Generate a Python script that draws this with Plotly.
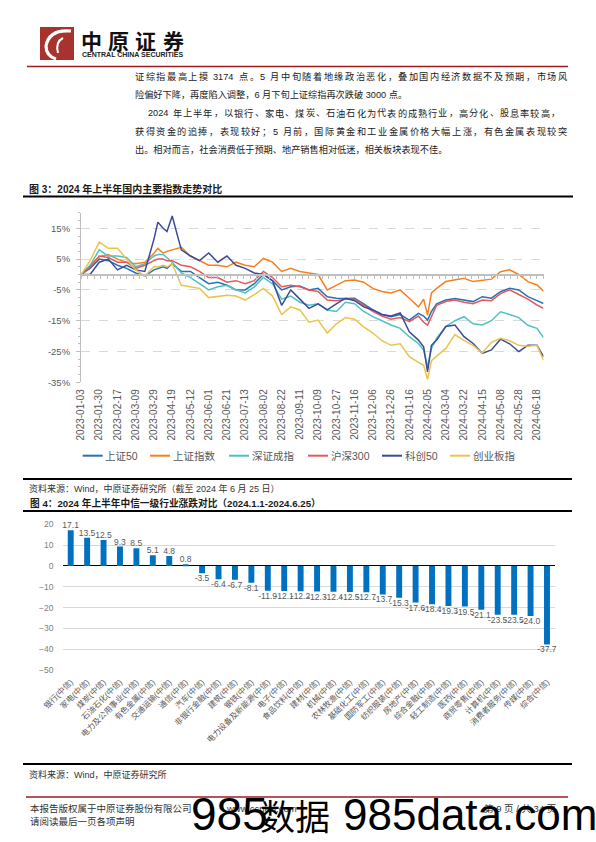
import plotly.graph_objects as go

# ---------------- data: figure 3 (cumulative % change since 2023-01-03) ----------------
index_names = ["上证50", "上证指数", "深证成指", "沪深300", "科创50", "创业板指"]

trade_day = [0, 7, 14, 21, 28, 35, 42, 49, 56, 59, 63, 66,
             70, 77, 84, 91, 98, 105, 112, 119, 126, 133, 140, 147, 154, 161, 168, 175, 182,
             189, 196, 203, 210, 217, 224, 231, 238, 245, 252, 259,
             263, 266, 269,
             273, 280, 287, 294, 301, 308, 315, 322, 329, 336, 343, 350, 355]

sz50 = [0, 2, 5, 4.5, 3, 2, 0.5, -0.5, 1.5, 2, 2.5, 2,
        3.5, 1, 1, -1, -3, -2.5, -3.5, -5, -5, -3, 0, -2, -5, -4, -3.7, -5, -4.5,
        -7.2, -7.7, -7.8, -7.7, -9.5, -11.5, -13, -13.7, -13, -14.8, -12.6,
        -13.5, -14.8, -12,
        -9.5, -8.3, -7.8, -8.3, -8.8, -7.2, -7.7, -5.6, -4.5, -5, -7.2, -8.5, -9.4]

sse = [0, 3, 5.8, 6.5, 5, 4, 3.5, 4, 6.9, 8.5, 7, 7.5,
       8, 8.8, 6, 4.5, 3, 3, 2.5, 4, 3, 2.5, 5.2, 4, 1, 2, 1, 0.5, 0,
       -5, -3.4, -2, -1.8, -2.5, -4.5, -5.5, -6, -5, -7.7, -10.5,
       -8, -13.2, -6,
       -4.5, -2.3, -1.8, -1.2, -2.3, -1.8, -1.5, 0.9, 1.5, 0, -2.3, -3.4, -5.4]

szse = [0, 3, 8, 6, 6, 5.5, 2.5, 3.5, 6, 6.5, 6.5, 5.5,
        4, 0.5, -1, -3, -5, -4, -3.5, -5, -6, -4, -1, -3, -8, -7, -9, -10, -9.5,
        -11.5, -12, -9, -9.5, -12, -13.7, -15, -16.4, -17.5, -20.2, -22.4,
        -24.5, -29.9, -24,
        -20.7, -16.9, -15, -13.7, -16, -16.4, -15, -12.1, -13, -14, -16.5, -17.5, -20.5]

hs300 = [0, 2.5, 6, 5.5, 4, 4, 2, 3, 4.5, 5, 5, 4.5,
         4.5, 3, 2.5, 1, -1, -1, -2.5, -2, -3, -2, 1, -1, -4, -3.5, -4, -5, -5.5,
         -8.3, -8.5, -8, -8, -10, -12, -13.5, -14.5, -14, -15.3, -13.5,
         -15.5, -16.4, -13.5,
         -10, -8.8, -8.3, -9, -9.5, -8.3, -8.5, -6.2, -5, -6.5, -8, -9.9, -11]

star50 = [0, 0, 4, 5, 1.5, 3, 1.5, 1, 11.5, 17, 15, 14,
          19, 8, 6, 4.5, 7, 4, 6, 3, 2, 0.5, 0, -2, -10, -5, -8, -11, -9.5,
          -11.5, -9.5, -7.7, -8.5, -10.5, -11.5, -13, -13.5, -12.5, -18.6, -21.3,
          -23.5, -31.6, -23,
          -21.3, -16.9, -16.4, -20.2, -22.4, -25.6, -24.5, -21, -22.5, -25, -23, -23, -26.7]

chinext = [0, 4.5, 10.5, 8.5, 8.5, 5, 1.5, -0.5, 2.5, 2.5, 3, 2.5,
           3.5, -3.5, -4, -4.5, -7.5, -7, -6.7, -7, -8.3, -6.5, -4.5, -7, -13, -10.5, -11.5, -15.5, -14.8,
           -19, -16, -14, -14.5, -17, -19, -21.5, -23, -22.5, -26.7, -28.5,
           -29.5, -34, -28,
           -26.5, -24, -19.5, -21.5, -23, -25.5, -22, -20.7, -21.5, -23, -23.3, -23, -27.8]

label_day = [0, 14, 28, 42, 56, 70, 84, 98, 112, 126, 140, 154, 168, 182, 196, 210,
             224, 238, 252, 266, 280, 294, 308, 322, 336, 350]
date_labels = ["2023-01-03", "2023-01-30", "2023-02-17", "2023-03-09", "2023-03-29",
               "2023-04-19", "2023-05-12", "2023-06-01", "2023-06-21", "2023-07-13",
               "2023-08-02", "2023-08-22", "2023-09-11", "2023-10-09", "2023-10-27",
               "2023-11-16", "2023-12-06", "2023-12-26", "2024-01-16", "2024-02-05",
               "2024-03-04", "2024-03-22", "2024-04-15", "2024-05-08", "2024-05-28",
               "2024-06-18"]
pct_ticks = [-35, -25, -15, -5, 5, 15]

# ---------------- data: figure 4 (CITIC level-1 industries, %) ----------------
industries = ["银行(中信)", "家电(中信)", "煤炭(中信)", "石油石化(中信)", "电力及公用事业(中信)",
              "有色金属(中信)", "交通运输(中信)", "通信(中信)", "汽车(中信)", "非银行金融(中信)",
              "建筑(中信)", "钢铁(中信)", "电力设备及新能源(中信)", "电子(中信)", "食品饮料(中信)",
              "建材(中信)", "机械(中信)", "农林牧渔(中信)", "基础化工(中信)", "国防军工(中信)",
              "纺织服装(中信)", "房地产(中信)", "综合金融(中信)", "轻工制造(中信)", "医药(中信)",
              "商贸零售(中信)", "计算机(中信)", "消费者服务(中信)", "传媒(中信)", "综合(中信)"]
returns = [17.1, 13.5, 12.5, 9.3, 8.5, 5.1, 4.8, 0.8, -3.5, -6.4,
           -6.7, -8.1, -11.9, -12.1, -12.2, -12.3, -12.4, -12.5, -12.7, -13.7,
           -15.3, -17.6, -18.4, -19.3, -19.5, -21.1, -23.5, -23.5, -24.0, -37.7]

# ---------------- page helpers ----------------
W, H = 596, 842
def X(p): return p / W
def Y(p): return 1 - p / H

FONT = "Liberation Sans, Noto Sans CJK SC, sans-serif"
CJK = "Noto Sans CJK SC, sans-serif"
NARROW = "Liberation Sans Narrow, Liberation Sans, Noto Sans CJK SC, sans-serif"

def em_width(s):
    w = 0.0
    for ch in s:
        if ord(ch) >= 0x2E80:
            w += 1.0
        elif ch.isdigit():
            w += 0.556
        elif ch in " .,":
            w += 0.278
        elif ch == "-":
            w += 0.333
        else:
            w += 0.556
    return w

annotations = []
shapes = []

def note(x, y, text, size, color="#1a1a1a", bold=False, family=FONT, xanchor="left"):
    annotations.append(dict(x=X(x), y=Y(y), xref="paper", yref="paper", text=text,
                            showarrow=False, xanchor=xanchor, yanchor="middle", align="left",
                            borderpad=0, borderwidth=0,
                            font=dict(size=size, color=color, family=family,
                                      weight="bold" if bold else "normal")))

def tokens(s):
    out, buf = [], ""
    for ch in s:
        if ord(ch) < 128:
            if ch == " ":
                if buf:
                    out.append(buf)
                    buf = ""
                out.append(" ")
            else:
                buf += ch
        else:
            if buf:
                out.append(buf)
                buf = ""
            out.append(ch)
    if buf:
        out.append(buf)
    return out

def justified(x0, x1, y, s, size, color="#1a1a1a"):
    toks = tokens(s)
    widths = [0.25 * size if t == " " else em_width(t) * size for t in toks]
    gap = max(0.0, (x1 - x0 - sum(widths)) / (len(toks) - 1))
    x = x0
    for t, w in zip(toks, widths):
        if t != " ":
            note(x, y, t, size, color=color)
        x += w + gap

def hline(y, x0, x1, color, width):
    shapes.append(dict(type="line", xref="paper", yref="paper", x0=X(x0), x1=X(x1),
                       y0=Y(y), y1=Y(y), line=dict(color=color, width=width)))

def path(d_px, color, width):
    parts = []
    for tok in d_px:
        parts.append(tok if isinstance(tok, str) else f"{X(tok[0]):.5f},{Y(tok[1]):.5f}")
    shapes.append(dict(type="path", xref="paper", yref="paper", path=" ".join(parts),
                       line=dict(color=color, width=width)))

# ---------------- header ----------------
RED = "#9E1B1E"
shapes.append(dict(type="rect", xref="paper", yref="paper", x0=X(40), x1=X(74), y0=Y(60), y1=Y(27),
                   fillcolor="#A8322E", line=dict(width=0)))
path(["M", (71, 31), "Q", (49, 29), (46, 46), "Q", (46, 56), (56, 59)], "white", 3.2)
path(["M", (63, 38), "Q", (55, 42), (58, 53)], "white", 2)
for cx, ch in zip([81, 108, 135, 163], "中原证券"):
    note(cx, 40, ch, 21, color="#111111", bold=True, family=CJK)
note(82, 55, "CENTRAL CHINA SECURITIES", 7, color="#222222", bold=True)
hline(66.5, 27, 568, RED, 1.5)

# ---------------- paragraph ----------------
PSIZE = 9.2
justified(135, 567, 77, "证综指最高上摸 3174 点。5 月中旬随着地缘政治恶化，叠加国内经济数据不及预期，市场风", PSIZE)
note(135, 94.5, "险偏好下降，再度陷入调整，6 月下旬上证综指再次跌破 3000 点。", PSIZE)
justified(148, 560, 113.5, "2024 年上半年，以银行、家电、煤炭、石油石化为代表的成熟行业，高分化、股息率较高，", PSIZE)
justified(135, 567, 131.5, "获得资金的追捧，表现较好；5 月前，国际黄金和工业金属价格大幅上涨，有色金属表现较突", PSIZE)
note(135, 149.5, "出。相对而言，社会消费低于预期、地产销售相对低迷，相关板块表现不佳。", PSIZE)

# ---------------- figure 3 frame ----------------
note(29, 189, "图 3：2024 年上半年国内主要指数走势对比", 10, bold=True)
hline(196.5, 23, 573, "#000000", 2)

colors = ["#2473B4", "#F7801E", "#4FC1C1", "#E5585B", "#3C4A97", "#E9C44D"]
series = [sz50, sse, szse, hs300, star50, chinext]

fig = go.Figure()
for name, vals, col in zip(index_names, series, colors):
    fig.add_trace(go.Scatter(x=trade_day, y=vals, mode="lines", name=name,
                             line=dict(color=col, width=1.5), xaxis="x", yaxis="y",
                             showlegend=False, hoverinfo="skip"))
# carrier for the zero-crossing category axis
fig.add_trace(go.Scatter(x=[0], y=[0], mode="markers", marker=dict(opacity=0),
                         xaxis="x3", yaxis="y", showlegend=False, hoverinfo="skip"))

# legend drawn as a row of line samples + names
legend_x = [82.7, 150, 229, 308, 382, 450]
for lx, name, col in zip(legend_x, index_names, colors):
    hline(455.7, lx, lx + 20, col, 2)
    note(lx + 22.5, 455.7, name, 10.5, color="#595959")

hline(479, 23, 572, "#000000", 2)
note(29, 488, "资料来源：Wind，中原证券研究所（截至 2024 年 6 月 25 日）", 9, color="#333333")

# ---------------- figure 4 frame ----------------
note(30, 502.7, "图 4：2024 年上半年中信一级行业涨跌对比（2024.1.1-2024.6.25）", 9.7, bold=True)
hline(511, 23, 572, "#000000", 2)

fig.add_trace(go.Bar(x=industries, y=returns, xaxis="x2", yaxis="y2",
                     marker=dict(color="#0070C0", line=dict(width=0)),
                     text=[f"{v:.1f}" for v in returns], textposition="outside",
                     textfont=dict(size=8.5, color="#595959", family=FONT), cliponaxis=False,
                     constraintext="none", showlegend=False, hoverinfo="skip"))

hline(764, 23, 572, "#000000", 2)
note(28.5, 774.5, "资料来源：Wind，中原证券研究所", 9, color="#333333")

# ---------------- footer ----------------
hline(797, 26, 568, RED, 1.5)
note(29.7, 808.7, "本报告版权属于中原证券股份有限公司", 9.5, color="#333333")
note(29.7, 821, "请阅读最后一页各项声明", 9.5, color="#333333")
note(226, 808.7, "www.ccnew.com", 9.5, color="#333333")
note(556, 808.7, "第 9 页 / 共 34 页", 9.5, color="#333333", xanchor="right")
# watermark
note(191, 814, "985", 46, color="#000000", family=NARROW)
note(260, 814, "数据", 35, color="#000000", family=CJK)
note(343, 814, "985data.com", 44, color="#000000", family=NARROW)

# ---------------- axes ----------------
LY_TOP, LY_BOT = 212.9, 382.3
ymin, ymax = -35, 20
zero_pos = Y(LY_BOT) + (0 - ymin) / (ymax - ymin) * (Y(LY_TOP) - Y(LY_BOT))

fig.update_layout(
    template="none",
    width=W, height=H, autosize=False,
    margin=dict(l=0, r=0, t=0, b=0, pad=0),
    paper_bgcolor="white", plot_bgcolor="rgba(0,0,0,0)",
    font=dict(family=FONT, color="#595959"),
    showlegend=False,
    xaxis=dict(domain=[X(81), X(543.5)], range=[0, 355], anchor="y", automargin=False,
               tickmode="array", tickvals=label_day, ticktext=date_labels,
               tickangle=-90, tickfont=dict(size=10, color="#595959"),
               showgrid=False, zeroline=False, showline=False, ticks="",
               ticklabelstandoff=4),
    yaxis=dict(domain=[Y(LY_BOT), Y(LY_TOP)], range=[ymin, ymax], anchor="x", automargin=False,
               tickmode="array", tickvals=pct_ticks, ticktext=[f"{v}%" for v in pct_ticks],
               showgrid=True, gridcolor="#D9D9D9", griddash="dash", gridwidth=1,
               zeroline=False, showline=True, linecolor="#BFBFBF", linewidth=1,
               ticks="outside", ticklen=4, tickcolor="#BFBFBF",
               minor=dict(ticks="outside", ticklen=2, tickcolor="#BFBFBF",
                          tick0=-35, dtick=2.5, showgrid=False),
               tickfont=dict(size=9.5, color="#595959"), ticklabelstandoff=4),
    xaxis3=dict(overlaying="x", anchor="free", position=zero_pos, range=[0, 355],
                automargin=False,
                showline=True, linecolor="#BFBFBF", linewidth=2,
                ticks="outside", ticklen=3, tickcolor="#BFBFBF",
                tickmode="linear", tick0=0, dtick=5,
                showticklabels=False, showgrid=False, zeroline=False),
    xaxis2=dict(domain=[X(62.5), X(555.2)], anchor="y2", range=[-0.5, 29.5], automargin=False,
                tickangle=-45, tickfont=dict(size=8, color="#595959"),
                showgrid=False, zeroline=False, showline=False, ticks="",
                ticklabelstandoff=5),
    yaxis2=dict(domain=[Y(670), Y(524.3)], anchor="x2", range=[-50, 20], automargin=False,
                tickmode="linear", tick0=0, dtick=10,
                showgrid=True, gridcolor="#D9D9D9", gridwidth=1,
                zeroline=True, zerolinecolor="#000000", zerolinewidth=1.2,
                showline=False, ticks="", tickfont=dict(size=8.5, color="#808080"),
                ticklabelstandoff=8),
    bargap=0.64,
    annotations=annotations,
    shapes=shapes,
)

fig.write_html("out.html", config={"displayModeBar": False},
               post_script="document.body.style.margin='0';document.body.style.padding='0';")
